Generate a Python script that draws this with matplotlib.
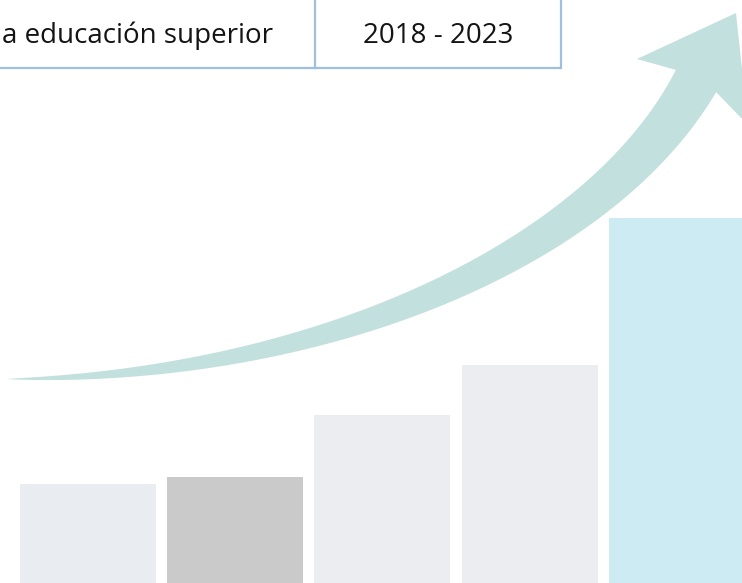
import numpy as np
import matplotlib
matplotlib.use("Agg")
import matplotlib.pyplot as plt
from matplotlib.patches import Polygon

# ---- data ----
categories = ["A", "B", "C", "D", "E"]
values = [99, 106, 168, 218, 365]
bar_colors = ["#E9ECF1", "#CACACA", "#ECEDF1", "#ECEDF1", "#CDEBF3"]
header_left = "a educación superior"
header_right = "2018 - 2023"

W, H = 742, 583
fig = plt.figure(figsize=(W / 100, H / 100), dpi=100)

# bars axis
ax = fig.add_axes([0, 0, 1, 1])
x = np.arange(len(categories))
spacing = 147.25
ax.bar(x, values, width=136 / spacing, color=bar_colors, zorder=1)
ax.set_xlim(-88 / spacing, (W - 88) / spacing)
ax.set_ylim(0, H)
ax.axis("off")

# decoration axis in pixel coordinates
dx = fig.add_axes([0, 0, 1, 1])
dx.set_xlim(0, W)
dx.set_ylim(H, 0)
dx.axis("off")
dx.patch.set_alpha(0)

# arrow: cubic bezier centre line with growing width
P = np.array([(7, 379), (320, 378), (600, 255), (696, 81)], float)
t = np.linspace(0, 1, 300)[:, None]
B = ((1 - t) ** 3) * P[0] + 3 * ((1 - t) ** 2) * t * P[1] + 3 * (1 - t) * t ** 2 * P[2] + t ** 3 * P[3]
D = 3 * ((1 - t) ** 2) * (P[1] - P[0]) + 6 * (1 - t) * t * (P[2] - P[1]) + 3 * t ** 2 * (P[3] - P[2])
D = D / np.linalg.norm(D, axis=1, keepdims=True)
N = np.column_stack([D[:, 1], -D[:, 0]])
w = 46 * t[:, 0] ** 0.8
top = B + N * (w[:, None] / 2)
bot = B - N * (w[:, None] / 2)
head = np.array([(637, 59), (736, 13), (748, 125)])
poly = np.vstack([top, head, bot[::-1]])
dx.add_patch(Polygon(poly, closed=True, facecolor="#C2E0DD", edgecolor="none", zorder=2))

# header table lines
lc = "#9FBFE0"
dx.plot([0, 561], [68, 68], color=lc, lw=1.6, solid_capstyle="butt")
dx.plot([315, 315], [0, 68], color=lc, lw=1.6)
dx.plot([561, 561], [0, 68], color=lc, lw=1.6)

dx.text(2, 36, header_left, ha="left", va="center", fontsize=20,
        family=["Open Sans", "DejaVu Sans"], color="#141414")
dx.text(438, 36, header_right, ha="center", va="center", fontsize=20,
        family=["Open Sans", "DejaVu Sans"], color="#141414")

fig.savefig("out.png", dpi=100)
